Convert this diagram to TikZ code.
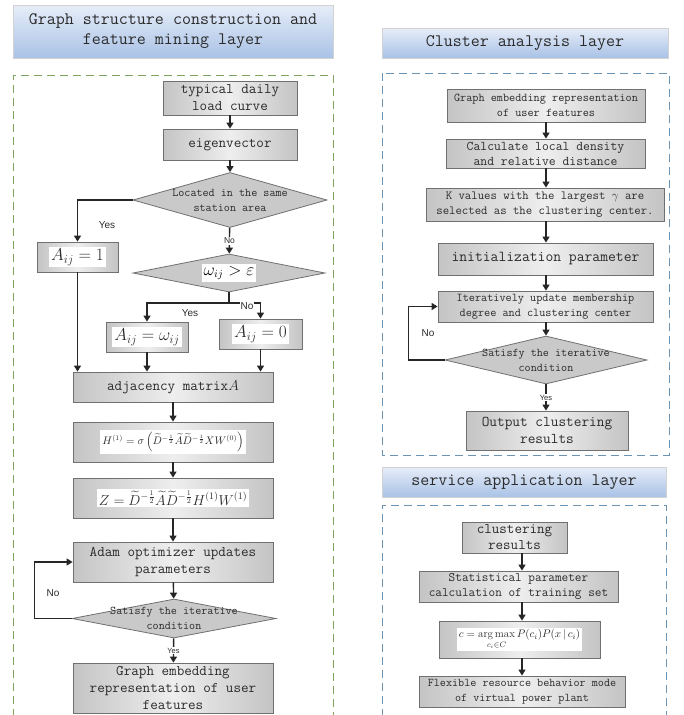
\documentclass[tikz,border=0pt]{standalone}
\usepackage{amsmath}
\usepackage{fontspec}
\usetikzlibrary{arrows.meta,shapes.geometric,calc}
\newfontfamily\arialf{Liberation Sans}
\definecolor{titletop}{HTML}{E6EDF8}
\definecolor{titlebot}{HTML}{A9C2E6}
\definecolor{boxedge}{HTML}{C4C4C4}
\definecolor{boxmid}{HTML}{EEEEEE}
\definecolor{boxline}{HTML}{707070}
\definecolor{diafill}{HTML}{C9C9C9}
\definecolor{greendash}{HTML}{7FA35E}
\definecolor{bluedash}{HTML}{6A93B4}
\definecolor{txt}{HTML}{2B2B2B}
\newcommand{\fs}[2]{\fontsize{#1}{#2}\selectfont}
\setlength{\fboxsep}{2pt}
\begin{document}
\begin{tikzpicture}[x=1pt,y=-1pt,
  sz/.style 2 args={minimum width=#1pt,minimum height=#2pt},
  titlebox/.style={draw=gray!35, top color=titletop, bottom color=titlebot, inner sep=0pt, align=center, font=\ttfamily\fs{17.5}{20}, text=txt},
  pbox/.style={draw=boxline, line width=0.8pt, left color=boxedge, right color=boxedge, middle color=boxmid, inner sep=0pt, align=center, text=txt, font=\ttfamily\fs{14.7}{17}},
  dia/.style={diamond, draw=boxline, line width=0.8pt, fill=diafill, inner sep=0pt},
  dtext/.style={align=center, text=txt, font=\ttfamily\fs{11.8}{15}},
  arr/.style={-{Triangle[width=7pt,length=6pt]}, line width=1.4pt, draw=black!85},
  ln/.style={line width=1.4pt, draw=black!85},
  lab/.style={font=\arialf\fs{10}{12}, text=txt},
  slab/.style={font=\arialf\fs{7.5}{9}, text=txt, fill=white, inner sep=1pt},
  frameG/.style={draw=greendash, line width=1pt, dash pattern=on 8pt off 5pt},
  frameB/.style={draw=bluedash, line width=1pt, dash pattern=on 8pt off 5pt}
]
\fill[white] (0,0) rectangle (684,715);
\useasboundingbox (0,0) rectangle (684,715);

% titles
\node[titlebox, sz={320}{53}] (tL) at (173,31.5) {Graph structure construction and\\feature mining layer};
\node[titlebox, sz={286}{30}] (tC) at (525,43) {Cluster analysis layer};
\node[titlebox, sz={284}{30}] (tS) at (524,482) {service application layer};

% frames
\draw[frameG] (13,730) -- (13,75) -- (333,75) -- (333,730);
\draw[frameB] (382,73) rectangle (669,455);
\draw[frameB] (382,730) -- (382,505) -- (666,505) -- (666,730);

% left column
\node[pbox, sz={134}{34}] (n1) at (230,98) {typical daily\\load curve};
\node[pbox, sz={134}{31}] (n2) at (230,144.5) {eigenvector};
\node[dia, sz={194}{55}] (d1) at (230,200) {};
\node[dtext] (d1t) at (d1) {Located in the same\\station area};
\node[pbox, sz={81}{30}] (a1) at (77.5,257) {\colorbox{white}{\fs{18}{20}$A_{ij}=1$}};
\node[dia, sz={192}{38}] (d2) at (229,273) {};
\node (d2t) at (d2) {\colorbox{white}{\fs{16}{18}$\omega_{ij}>\varepsilon$}};
\coordinate (sp) at (229,303);
\node[pbox, sz={82}{30}] (a2) at (147,337) {\colorbox{white}{\fs{18}{20}$A_{ij}=\omega_{ij}$}};
\node[pbox, sz={83}{30}] (a3) at (260.5,334) {\colorbox{white}{\fs{18}{20}$A_{ij}=0$}};
\node[pbox, sz={200}{30}] (adj) at (173,387) {adjacency matrix$A$};
\node[pbox, sz={200}{40}] (H) at (173,442) {\colorbox{white}{\fs{10.5}{12}$H^{(1)}=\sigma\left(\widetilde{D}^{-\frac{1}{2}}\widetilde{A}\widetilde{D}^{-\frac{1}{2}}XW^{(0)}\right)$}};
\node[pbox, sz={200}{40}] (Z) at (173,498) {\colorbox{white}{\fs{14}{16}$Z=\widetilde{D}^{-\frac{1}{2}}\widetilde{A}\widetilde{D}^{-\frac{1}{2}}H^{(1)}W^{(1)}$}};
\node[pbox, sz={200}{40}] (adam) at (173,562) {Adam optimizer updates\\parameters};
\node[dia, sz={204}{39}] (d3) at (174,618.5) {};
\node[dtext] (d3t) at (d3) {Satisfy the iterative\\condition};
\node[pbox, sz={200}{50}] (ge) at (173,688) {Graph embedding\\representation of user\\features};

\draw[arr] (n1) -- (n2);
\draw[arr] (n2) -- (d1);
\draw[arr] (d1) -- node[slab, font=\arialf\fs{8.5}{10}] {No} (d2);
\draw[arr] (d1.west) -| (a1.north);
\node[lab] (yes1) at (107,225) {Yes};
\draw[ln] (d2.south) -- (sp);
\draw[arr] (sp) -| (a2.north);
\draw[arr] (sp) -| (a3.north);
\node[lab] (yes2) at (190,313) {Yes};
\node[lab, fill=white, inner sep=0.5pt] (no2) at (247,306) {No};
\draw[arr] (a1.south) -- (a1.south |- adj.north);
\draw[arr] (a2.south) -- (a2.south |- adj.north);
\draw[arr] (a3.south) -- (a3.south |- adj.north);
\draw[arr] (adj) -- (H);
\draw[arr] (H) -- (Z);
\draw[arr] (Z) -- (adam);
\draw[arr] (adam) -- (d3);
\draw[arr] (d3) -- node[slab] {Yes} (ge);
\draw[arr] (d3.west) -- ++(-37,0) |- (adam.west);
\node[lab] (no3) at (53,593) {No};

% cluster analysis column
\coordinate (cx) at (546,0);
\node[pbox, sz={198}{33}, font=\ttfamily\fs{11.9}{15}] (r1) at (546,105.5) {Graph embedding representation\\of user features};
\node[pbox, sz={199}{29}, font=\ttfamily\fs{13.3}{15}] (r2) at (545.5,153.5) {Calculate local density\\and relative distance};
\node[pbox, sz={238}{33}, font=\ttfamily\fs{12.4}{15}] (r3) at (545,204.5) {K values with the largest $\gamma$ are\\selected as the clustering center.};
\node[pbox, sz={215}{32}, font=\ttfamily\fs{15.2}{17}] (r4) at (545.5,259) {initialization parameter};
\node[pbox, sz={215}{31}, font=\ttfamily\fs{11.9}{15}] (r5) at (545.5,306.5) {Iteratively update membership\\degree and clustering center};
\node[dia, sz={202}{48}] (rd) at (546,360) {};
\node[dtext] (rdt) at (rd) {Satisfy the iterative\\condition};
\node[pbox, sz={162}{39}, font=\ttfamily\fs{14.9}{17}] (r6) at (547,430.5) {Output clustering\\results};

\draw[arr] (r1.south -| cx) -- (r2.north -| cx);
\draw[arr] (r2.south -| cx) -- (r3.north -| cx);
\draw[arr] (r3.south -| cx) -- (r4.north -| cx);
\draw[arr] (r4.south -| cx) -- (r5.north -| cx);
\draw[arr] (r5.south -| cx) -- (rd.north);
\draw[arr] (rd.south) -- node[slab] {Yes} (r6.north -| rd.south);
\draw[arr] (rd.west) -- ++(-36,0) |- (r5.west);
\node[lab] (no4) at (428,333) {No};

% service application column
\coordinate (sx) at (522,0);
\node[pbox, sz={105}{31}, font=\ttfamily\fs{14.6}{16}] (s1) at (514.5,537.5) {clustering\\results};
\node[pbox, sz={199}{31}, font=\ttfamily\fs{12.9}{15}] (s2) at (518.5,586.5) {Statistical parameter\\calculation of training set};
\node[pbox, sz={161}{37}] (s3) at (519.5,639.5) {\colorbox{white}{\fs{11}{13}$c=\mathop{\arg\max}\limits_{c_i\in C}P(c_i)P(x\,|\,c_i)$}};
\node[pbox, sz={206}{31}, font=\ttfamily\fs{11.8}{15}] (s4) at (522,691.5) {Flexible resource behavior mode\\of virtual power plant};

\draw[arr] (s1.south -| sx) -- (s2.north -| sx);
\draw[arr] (s2.south -| sx) -- (s3.north -| sx);
\draw[arr] (s3.south -| sx) -- (s4.north -| sx);
\end{tikzpicture}
\end{document}
